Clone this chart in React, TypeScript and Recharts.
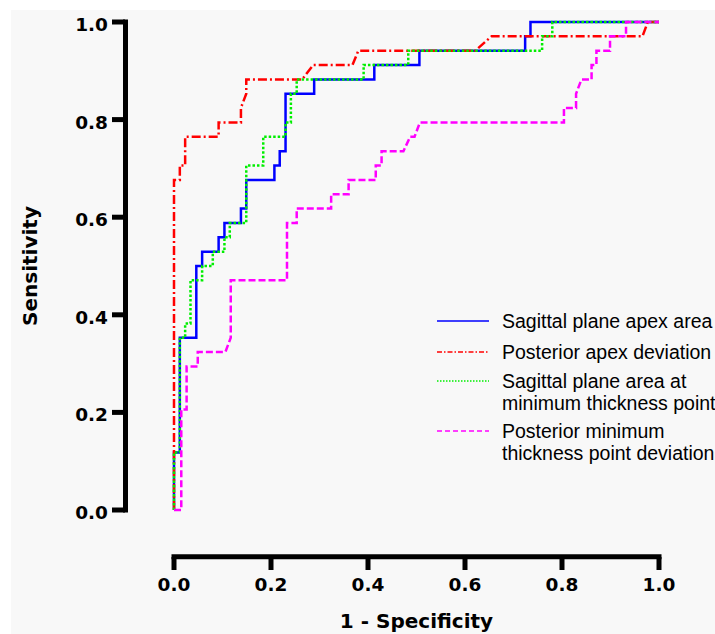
import React from "react";
import {
  LineChart,
  Line,
  XAxis,
  YAxis,
  Legend,
  ReferenceLine,
} from "recharts";

// 1 - specificity (x) and sensitivity (y) for each ROC curve
const apexAreaFpr = [0, 0, 0.012, 0.012, 0.046, 0.046, 0.058, 0.058, 0.092, 0.092, 0.104, 0.104, 0.138, 0.138, 0.149, 0.149, 0.207, 0.207, 0.218, 0.218, 0.23, 0.23, 0.289, 0.289, 0.413, 0.413, 0.506, 0.506, 0.724, 0.724, 0.735, 0.735, 1];
const apexAreaTpr = [0, 0.118, 0.118, 0.353, 0.353, 0.5, 0.5, 0.529, 0.529, 0.559, 0.559, 0.588, 0.588, 0.618, 0.618, 0.676, 0.676, 0.706, 0.706, 0.735, 0.735, 0.853, 0.853, 0.882, 0.882, 0.912, 0.912, 0.941, 0.941, 0.971, 0.971, 1, 1];

const apexDevFpr = [0, 0, 0.012, 0.012, 0.023, 0.023, 0.092, 0.092, 0.138, 0.138, 0.149, 0.149, 0.264, 0.287, 0.368, 0.38, 0.621, 0.655, 0.966, 0.977, 1];
const apexDevTpr = [0, 0.676, 0.676, 0.706, 0.706, 0.765, 0.765, 0.794, 0.794, 0.824, 0.853, 0.882, 0.882, 0.912, 0.912, 0.941, 0.941, 0.971, 0.971, 1, 1];

const minAreaFpr = [0, 0, 0.012, 0.012, 0.023, 0.023, 0.034, 0.034, 0.058, 0.058, 0.08, 0.08, 0.104, 0.104, 0.115, 0.115, 0.149, 0.149, 0.184, 0.184, 0.23, 0.23, 0.241, 0.241, 0.253, 0.253, 0.391, 0.391, 0.483, 0.483, 0.759, 0.759, 0.78, 0.78, 1];
const minAreaTpr = [0, 0.118, 0.118, 0.353, 0.353, 0.382, 0.382, 0.471, 0.471, 0.5, 0.5, 0.529, 0.529, 0.559, 0.559, 0.588, 0.588, 0.706, 0.706, 0.765, 0.765, 0.794, 0.794, 0.853, 0.853, 0.882, 0.882, 0.912, 0.912, 0.941, 0.941, 0.971, 0.971, 1, 1];

const minDevFpr = [0, 0.015, 0.015, 0.026, 0.026, 0.049, 0.049, 0.106, 0.117, 0.117, 0.233, 0.233, 0.253, 0.253, 0.324, 0.324, 0.36, 0.36, 0.416, 0.416, 0.428, 0.428, 0.473, 0.487, 0.496, 0.507, 0.804, 0.804, 0.829, 0.829, 0.84, 0.861, 0.861, 0.871, 0.871, 0.899, 0.899, 0.932, 0.932, 1];
const minDevTpr = [0, 0, 0.206, 0.206, 0.294, 0.294, 0.324, 0.324, 0.353, 0.471, 0.471, 0.588, 0.588, 0.618, 0.618, 0.647, 0.647, 0.676, 0.676, 0.706, 0.706, 0.735, 0.735, 0.765, 0.765, 0.794, 0.794, 0.824, 0.824, 0.853, 0.882, 0.882, 0.912, 0.912, 0.941, 0.941, 0.971, 0.971, 1, 1];

const axisTicks = [0, 0.2, 0.4, 0.6, 0.8, 1];

const toPoints = (xs: number[], ys: number[]) => xs.map((x, i) => ({ x, y: ys[i] }));

const series = [
  {
    key: "apexArea",
    name: "Sagittal plane apex area",
    lines: ["Sagittal plane apex area"],
    data: toPoints(apexAreaFpr, apexAreaTpr),
    color: "#0000ff",
    dash: undefined,
    legendDash: undefined,
  },
  {
    key: "apexDev",
    name: "Posterior apex deviation",
    lines: ["Posterior apex deviation"],
    data: toPoints(apexDevFpr, apexDevTpr),
    color: "#ff0000",
    dash: "9 3 2 3",
    legendDash: "5 2 1.5 2",
  },
  {
    key: "minArea",
    name: "Sagittal plane area at minimum thickness point",
    lines: ["Sagittal plane area at", "minimum thickness point"],
    data: toPoints(minAreaFpr, minAreaTpr),
    color: "#00ee00",
    dash: "2.5 2",
    legendDash: "1.5 1.5",
  },
  {
    key: "minDev",
    name: "Posterior minimum thickness point deviation",
    lines: ["Posterior minimum", "thickness point deviation"],
    data: toPoints(minDevFpr, minDevTpr),
    color: "#ff00ff",
    dash: "7 3",
    legendDash: "5 3",
  },
];

const AXIS_FONT = "'DejaVu Sans', Verdana, sans-serif";
const LEGEND_FONT = "'Liberation Sans', Arial, sans-serif";
const legendRowY = [21, 52, 81, 131];

const YTick = (props: any) => {
  const { x, y, payload } = props;
  return (
    <g>
      <line x1={x - 62} x2={x - 49} y1={y} y2={y} stroke="#000" strokeWidth={5} />
      <text x={x - 66} y={y + 9} textAnchor="end" fontFamily={AXIS_FONT} fontWeight="bold" fontSize={18.5} fill="#000">
        {Number(payload.value).toFixed(1)}
      </text>
    </g>
  );
};

const XTick = (props: any) => {
  const { x, y, payload } = props;
  return (
    <g>
      <line x1={x} x2={x} y1={y + 47} y2={y + 60} stroke="#000" strokeWidth={5} />
      <text x={x} y={y + 81} textAnchor="middle" fontFamily={AXIS_FONT} fontWeight="bold" fontSize={18.5} fill="#000">
        {Number(payload.value).toFixed(1)}
      </text>
    </g>
  );
};

const YTitle = (props: any) => {
  const vb = props.viewBox || {};
  const cy = (vb.y ?? 22) + (vb.height ?? 488) / 2;
  return (
    <text x={30} y={cy} transform={`rotate(-90 30 ${cy})`} textAnchor="middle" dominantBaseline="central"
      fontFamily={AXIS_FONT} fontWeight="bold" fontSize={20} fill="#000">
      Sensitivity
    </text>
  );
};

const XTitle = (props: any) => {
  const vb = props.viewBox || {};
  const cx = (vb.x ?? 174) + (vb.width ?? 485) / 2;
  const top = vb.y ?? 510;
  return (
    <text x={cx} y={top + 118} textAnchor="middle" fontFamily={AXIS_FONT} fontWeight="bold" fontSize={20} fill="#000">
      1 - Specificity
    </text>
  );
};

const renderLegend = () => (
  <svg width={285} height={170} style={{ display: "block" }}>
    {series.map((s, i) => {
      const ly = legendRowY[i];
      return (
        <g key={s.key}>
          <line x1={7} x2={59} y1={ly} y2={ly} stroke={s.color} strokeWidth={1.4} strokeDasharray={s.legendDash} />
          {s.lines.map((t, j) => (
            <text key={j} x={72} y={ly + 6.5 + j * 22.7} fontFamily={LEGEND_FONT} fontSize={19.5} fill="#000">
              {t}
            </text>
          ))}
        </g>
      );
    })}
  </svg>
);

export default function App() {
  return (
    <div style={{ position: "absolute", left: 0, top: 0, width: 715, height: 634, overflow: "hidden", background: "#fff" }}>
      <div style={{ position: "absolute", left: 11, top: 10, right: 0, bottom: 0, background: "#f8f8f8" }} />
      <div style={{ position: "absolute", left: 0, top: 0 }}>
        <LineChart width={715} height={634} margin={{ top: 22, right: 56, bottom: 0, left: 0 }}>
          <XAxis
            type="number"
            dataKey="x"
            domain={[0, 1]}
            ticks={axisTicks}
            height={124}
            axisLine={false}
            tickLine={false}
            tickSize={0}
            tickMargin={0}
            tick={(p: any) => <XTick {...p} />}
            label={(p: any) => <XTitle {...p} />}
          />
          <YAxis
            type="number"
            domain={[0, 1]}
            ticks={axisTicks}
            width={174}
            axisLine={false}
            tickLine={false}
            tickSize={0}
            tickMargin={0}
            tick={(p: any) => <YTick {...p} />}
            label={(p: any) => <YTitle {...p} />}
          />
          <ReferenceLine
            segment={[{ x: -0.1, y: 0 }, { x: -0.1, y: 1 }]}
            ifOverflow="visible"
            stroke="#000"
            strokeWidth={5}
            strokeLinecap="square"
          />
          <ReferenceLine
            segment={[{ x: 0, y: -0.096 }, { x: 1, y: -0.096 }]}
            ifOverflow="visible"
            stroke="#000"
            strokeWidth={5}
            strokeLinecap="square"
          />
          {series.map((s) => (
            <Line
              key={s.key}
              data={s.data}
              dataKey="y"
              name={s.name}
              type="linear"
              stroke={s.color}
              strokeWidth={2.5}
              strokeDasharray={s.dash}
              dot={false}
              activeDot={false}
              isAnimationActive={false}
            />
          ))}
          <Legend
            layout="vertical"
            align="center"
            verticalAlign="middle"
            content={renderLegend}
            wrapperStyle={{ left: 430, top: 300, width: 285, height: 170 }}
          />
        </LineChart>
      </div>
    </div>
  );
}
